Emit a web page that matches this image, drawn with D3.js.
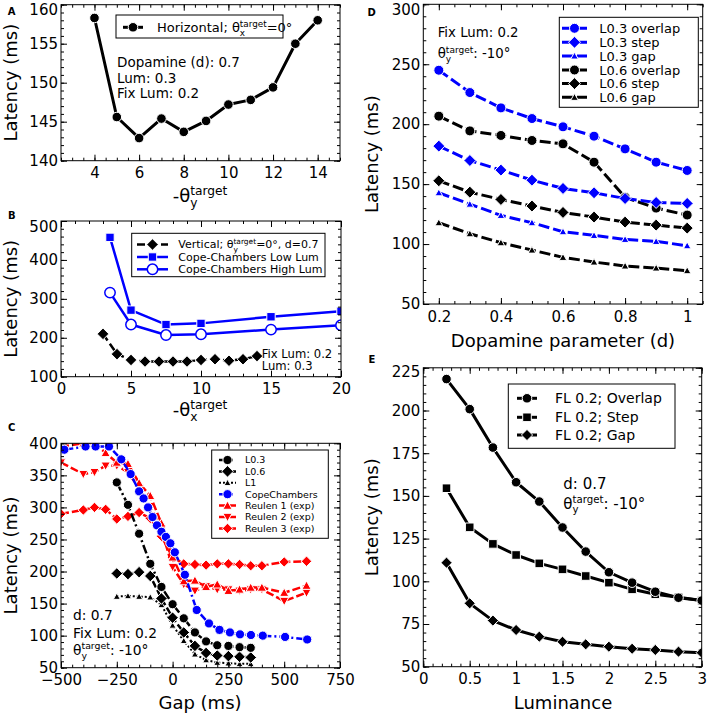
<!DOCTYPE html>
<html><head><meta charset="utf-8">
<script src="https://cdn.jsdelivr.net/npm/d3@7"></script>
<style>
body{margin:0;background:#fff;}
svg{font-family:"DejaVu Sans",sans-serif;}
</style></head><body>
<svg id="c" width="708" height="716"></svg>
<script>
// ---------------- DATA ----------------
// Panel A
const aTheta = [4,5,6,7,8,9,10,11,12,13,14];
const aHorizontal = [158.3,145.6,142.9,145.4,143.7,145.1,147.2,147.8,149.4,155.0,158.0];
const aXTicks = [4,6,8,10,12,14];
const aYTicks = [140,145,150,155,160];
// Panel B
const bThetaVert = [3,4,5,6,7,8,9,10,11,12,13,14];
const bVertical = [210,158,143,139,139,139,139,143,145,141,145,153];
const bThetaCC = [3.5,5,7.5,10,15,20];
const bCCLow = [458,271,234,237,254,268];
const bCCHigh = [316,234,207,209,221,232];
const bXTicks = [0,5,10,15,20];
const bYTicks = [100,200,300,400,500];
// Panel C
const cGapModel = [-250,-200,-150,-100,-50,0,50,100,150,200,250,300,350];
const cL03 = [339,304,259,212,176,149,127,105,91,85,84,82,81];
const cL06 = [197,196,199,193,158,128,105,84,73,69,68,67,66];
const cL1 = [161,162,161,160,148,116,92,71,62,58,57,56,56];
const cGapCC = [-485,-390,-345,-285,-230,-188,-150,-130,-110,-90,-70,-50,-30,-10,10,55,108,163,210,257,302,351,404,504,603];
const cCope = [390,395,395,395,375,352,325,314,300,285,272,262,254,244,230,195,140,119,109,105,102,101,100,98,94];
const cGapReulen = [-500,-400,-350,-300,-250,-200,-150,-100,-50,0,50,100,150,200,250,300,350,400,500,600];
const cReulen1 = [395,400,400,385,370,368,338,318,275,222,185,186,176,180,170,172,175,175,167,178];
const cReulen2 = [370,352,355,365,365,355,330,302,265,207,180,170,177,172,172,170,172,172,154,167];
const cReulen3 = [290,296,300,297,282,286,292,283,255,222,212,211,210,212,212,211,209,209,215,216];
const cXTicks = [-500,-250,0,250,500,750];
const cYTicks = [50,100,150,200,250,300,350,400];
// Panel D
const dDopamine = [0.2,0.3,0.4,0.5,0.6,0.7,0.8,0.9,1.0];
const dL03Overlap = [245,226.4,213.6,204.7,197.8,190,179.4,168.3,161.4];
const dL03Step = [181.7,169.7,161.7,153.3,146.4,142.8,138,134.7,133.9];
const dL03Gap = [142.8,133.3,123.9,117.8,110.3,107.2,103.9,102.2,98.6];
const dL06Overlap = [206.7,194.4,190.6,186.4,183.6,168.3,139,130,124.2];
const dL06Step = [152.8,143.3,137.2,131.7,126.4,122.5,118.3,115.8,113.3];
const dL06Gap = [117.8,108.6,101.1,95,88.9,85,81.7,80,77.8];
const dXTicks = [0.2,0.4,0.6,0.8,1.0];
const dYTicks = [50,100,150,200,250,300];
// Panel E
const eLuminance = [0.25,0.5,0.75,1.0,1.25,1.5,1.75,2.0,2.25,2.5,2.75,3.0];
const eOverlap = [218.4,200.8,178.3,158,146.7,131.5,117.4,105.3,99.2,93.9,90.4,88.7];
const eStep = [154.5,131.6,121.9,115.4,110.5,107,103.1,99.2,95.3,92.4,90.6,88.7];
const eGap = [110.9,87.1,77,71.5,67.6,64.6,63.1,61.7,60.5,59.8,58.8,58.2];
const eXTicks = [0,0.5,1,1.5,2,2.5,3];
const eYTicks = [50,75,100,125,150,175,200,225];

// ---------------- HELPERS ----------------
const svg = d3.select("#c");
const BLUE = "#0000ff", RED = "#ff0000", BLACK = "#000000";
let clipN = 0;

function markerPath(type, s) {
  if (type === "circle") return `M${s},0A${s},${s} 0 1,1 ${-s},0A${s},${s} 0 1,1 ${s},0Z`;
  if (type === "square") return `M${-s},${-s}H${s}V${s}H${-s}Z`;
  if (type === "diamond") return `M0,${-s}L${s},0L0,${s}L${-s},0Z`;
  if (type === "tup") return `M0,${-s}L${s},${s*0.8}L${-s},${s*0.8}Z`;
  if (type === "tdown") return `M0,${s}L${s},${-s*0.8}L${-s},${-s*0.8}Z`;
  return "";
}

function richText(parent, x, y, pre, sub, sup, post, fs, anchor) {
  const g = parent.append("g");
  const t1 = g.append("text").attr("x",0).attr("y",0).style("font-size",fs+"px").text(pre);
  let w = t1.node().getComputedTextLength();
  const sm = fs*0.68;
  const ts = g.append("text").attr("x",w).attr("y",fs*0.28).style("font-size",sm+"px").text(sub);
  const tp = g.append("text").attr("x",w).attr("y",-fs*0.40).style("font-size",sm+"px").text(sup);
  w += Math.max(ts.node().getComputedTextLength(), tp.node().getComputedTextLength());
  const t2 = g.append("text").attr("x",w).attr("y",0).style("font-size",fs+"px").text(post);
  w += t2.node().getComputedTextLength();
  const dx = anchor === "middle" ? -w/2 : anchor === "end" ? -w : 0;
  g.attr("transform",`translate(${x+dx},${y})`);
  return g;
}

function drawSeries(plot, x, y, s) {
  const data = s.x.map((v,i)=>[v, s.y[i]]);
  const line = d3.line().x(d=>x(d[0])).y(d=>y(d[1]));
  plot.append("path").attr("d", line(data)).attr("fill","none")
    .attr("stroke", s.color).attr("stroke-width", s.lw)
    .attr("stroke-dasharray", s.dash || null).attr("stroke-linejoin","round");
  plot.append("g").selectAll("path").data(data).join("path")
    .attr("d", markerPath(s.marker, s.ms))
    .attr("transform", d=>`translate(${x(d[0])},${y(d[1])})`)
    .attr("fill", s.fill || s.color)
    .attr("stroke", s.mstroke || "#fff")
    .attr("stroke-width", s.mew != null ? s.mew : 1);
}

function legendSample(g, x0, x1, yy, s) {
  g.append("line").attr("x1",x0).attr("x2",x1).attr("y1",yy).attr("y2",yy)
    .attr("stroke",s.color).attr("stroke-width",s.lw).attr("stroke-dasharray",s.dash||null);
  g.append("path").attr("d",markerPath(s.marker,s.ms))
    .attr("transform",`translate(${(x0+x1)/2},${yy})`)
    .attr("fill",s.fill||s.color).attr("stroke",s.mstroke||"#fff")
    .attr("stroke-width",s.mew!=null?s.mew:1);
}

function panel(cfg) {
  const g = svg.append("g");
  const x = d3.scaleLinear().domain(cfg.xd).range([cfg.l, cfg.r]);
  const y = d3.scaleLinear().domain(cfg.yd).range([cfg.b, cfg.t]);
  const id = "clip" + (clipN++);
  g.append("clipPath").attr("id",id).append("rect")
    .attr("x",cfg.l).attr("y",cfg.t).attr("width",cfg.r-cfg.l).attr("height",cfg.b-cfg.t);
  const plot = g.append("g").attr("clip-path",`url(#${id})`);
  cfg.series.forEach(s => drawSeries(plot, x, y, s));

  const fmt = cfg.fmt || (d => d < 0 ? "\u2212" + Math.abs(d) : String(+d.toFixed(2)));
  const style = sel => { sel.select(".domain").remove(); sel.selectAll("text").style("font-size","15px").style("font-family","DejaVu Sans").attr("fill","#000"); sel.attr("font-family",null).attr("font-size",null); sel.selectAll("line").attr("stroke","#000").attr("stroke-width",1); };
  const T = 6, t = 3;
  g.append("g").attr("transform",`translate(0,${cfg.b})`)
    .call(d3.axisBottom(x).tickValues(cfg.xt).tickSize(-T).tickPadding(7).tickFormat(fmt)).call(style);
  g.append("g").attr("transform",`translate(0,${cfg.b})`)
    .call(d3.axisBottom(x).tickValues(cfg.xm).tickSize(-t).tickFormat("")).call(style);
  g.append("g").attr("transform",`translate(0,${cfg.t})`)
    .call(d3.axisTop(x).tickValues(cfg.xt).tickSize(-T).tickFormat("")).call(style);
  g.append("g").attr("transform",`translate(0,${cfg.t})`)
    .call(d3.axisTop(x).tickValues(cfg.xm).tickSize(-t).tickFormat("")).call(style);
  const yax = g.append("g").attr("transform",`translate(${cfg.l},0)`)
    .call(d3.axisLeft(y).tickValues(cfg.yt).tickSize(-T).tickPadding(3).tickFormat(fmt)).call(style);
  if (cfg.topShift) {
    const top = d3.max(cfg.yt);
    yax.selectAll(".tick").filter(d => d === top).select("text")
      .attr("y", cfg.topShift);
  }
  g.append("g").attr("transform",`translate(${cfg.l},0)`)
    .call(d3.axisLeft(y).tickValues(cfg.ym).tickSize(-t).tickFormat("")).call(style);
  g.append("g").attr("transform",`translate(${cfg.r},0)`)
    .call(d3.axisRight(y).tickValues(cfg.yt).tickSize(-T).tickFormat("")).call(style);
  g.append("g").attr("transform",`translate(${cfg.r},0)`)
    .call(d3.axisRight(y).tickValues(cfg.ym).tickSize(-t).tickFormat("")).call(style);
  g.append("rect").attr("x",cfg.l).attr("y",cfg.t).attr("width",cfg.r-cfg.l).attr("height",cfg.b-cfg.t)
    .attr("fill","none").attr("stroke","#000").attr("stroke-width",1);

  // y label
  g.append("text").attr("transform",`translate(${cfg.ylx},${(cfg.t+cfg.b)/2}) rotate(-90)`)
    .attr("text-anchor","middle").style("font-size","18px").text("Latency (ms)");
  // panel letter
  g.append("text").attr("x",cfg.letter[1]).attr("y",cfg.letter[2]).attr("text-anchor","middle")
    .style("font-size","10px").style("font-weight","bold").text(cfg.letter[0]);
  // legend
  if (cfg.legend) {
    const L = cfg.legend;
    g.append("rect").attr("x",L.box[0]).attr("y",L.box[1]).attr("width",L.box[2]-L.box[0]).attr("height",L.box[3]-L.box[1])
      .attr("fill","#fff").attr("stroke","#000").attr("stroke-width",1);
    L.items.forEach((it,i) => {
      const yy = L.rows[i];
      legendSample(g, L.sx[0], L.sx[1], yy, it.s);
      if (it.rich) richText(g, L.tx, yy + L.fs*0.36, it.rich[0], it.rich[1], it.rich[2], it.rich[3], L.fs, "start");
      else g.append("text").attr("x",L.tx).attr("y",yy + L.fs*0.36).style("font-size",L.fs+"px").text(it.label);
    });
  }
  return {g, x, y};
}
const range = (a,b,s) => d3.range(a, b + s/2, s);

// ---------------- PANEL A ----------------
const sA = {x:aTheta, y:aHorizontal, color:BLACK, lw:3, marker:"circle", ms:4.8};
const A = panel({l:61, r:340, t:4.7, b:160.7, xd:[2.5,15], yd:[140,160],
  xt:aXTicks, xm:range(2.5,15,0.5), yt:aYTicks, ym:range(140,160,1), topShift:4.7,
  series:[sA], ylx:16.5, letter:["A",11.7,14.5],
  legend:{box:[116,15,283,38], rows:[27.3], sx:[123,143], tx:157, fs:13,
    items:[{s:sA, rich:["Horizontal; \u03b8","x","target","=0\u00b0"]}]}
});
A.g.append("text").attr("x",117).attr("y",67).style("font-size","13.5px").text("Dopamine (d): 0.7");
A.g.append("text").attr("x",117).attr("y",82.7).style("font-size","13.5px").text("Lum: 0.3");
A.g.append("text").attr("x",117).attr("y",98.3).style("font-size","13.5px").text("Fix Lum: 0.2");
richText(A.g, 200, 202, "-\u03b8", "y", "target", "", 18, "middle");

// ---------------- PANEL B ----------------
const sBV = {x:bThetaVert, y:bVertical, color:BLACK, lw:2.5, dash:"8,4", marker:"diamond", ms:5.8};
const sBL = {x:bThetaCC, y:bCCLow, color:BLUE, lw:2.5, marker:"square", ms:4.2};
const sBH = {x:bThetaCC, y:bCCHigh, color:BLUE, lw:2.5, marker:"circle", ms:5.2, fill:"#fff", mstroke:BLUE, mew:1.5};
const B = panel({l:61, r:341, t:221, b:376.7, xd:[0,20], yd:[100,500],
  xt:bXTicks, xm:range(0,20,1), yt:bYTicks, ym:range(100,500,20), topShift:6,
  series:[sBV, sBL, sBH], ylx:16.5, letter:["B",11.7,219],
  legend:{box:[131.7,233.3,325,276.7], rows:[244.5,257,269.3], sx:[137,168], tx:178.3, fs:11,
    items:[{s:sBV, rich:["Vertical; \u03b8","y","target","=0\u00b0, d=0.7"]},
           {s:sBL, label:"Cope-Chambers Low Lum"},
           {s:sBH, label:"Cope-Chambers High Lum"}]}
});
B.g.append("text").attr("x",261.7).attr("y",357.5).style("font-size","11.6px").text("Fix Lum: 0.2");
B.g.append("text").attr("x",261.7).attr("y",370).style("font-size","11.6px").text("Lum: 0.3");
richText(B.g, 200, 416, "-\u03b8", "x", "target", "", 18, "middle");

// ---------------- PANEL C ----------------
const sC1 = {x:cGapModel, y:cL03, color:BLACK, lw:2.5, dash:"9,3,2,3", marker:"circle", ms:4.6};
const sC2 = {x:cGapModel, y:cL06, color:BLACK, lw:2.5, dash:"7,3", marker:"diamond", ms:5.8};
const sC3 = {x:cGapModel, y:cL1, color:BLACK, lw:2, dash:"2,2", marker:"tup", ms:3.5};
const sC4 = {x:cGapCC, y:cCope, color:BLUE, lw:2.5, dash:"9,3,2,3", marker:"circle", ms:4.6};
const sC5 = {x:cGapReulen, y:cReulen1, color:RED, lw:2.5, dash:"8,3", marker:"tup", ms:4.6};
const sC6 = {x:cGapReulen, y:cReulen2, color:RED, lw:2.5, dash:"8,3", marker:"tdown", ms:4.6};
const sC7 = {x:cGapReulen, y:cReulen3, color:RED, lw:2.5, dash:"8,3", marker:"diamond", ms:5.2};
const C = panel({l:61, r:340, t:443.3, b:667.7, xd:[-500,750], yd:[50,400],
  xt:cXTicks, xm:range(-500,750,50), yt:cYTicks, ym:range(50,400,10),
  series:[sC7, sC6, sC5, sC4, sC3, sC2, sC1], ylx:16.5, letter:["C",11.7,430.5],
  legend:{box:[211.7,450,328.3,538.3], rows:[460,471.4,482.8,494.2,505.6,517,528.4], sx:[219,236], tx:245, fs:9.5,
    items:[{s:sC1,label:"L0.3"},{s:sC2,label:"L0.6"},{s:sC3,label:"L1"},{s:sC4,label:"CopeChambers"},
           {s:sC5,label:"Reulen 1 (exp)"},{s:sC6,label:"Reulen 2 (exp)"},{s:sC7,label:"Reulen 3 (exp)"}]}
});
C.g.append("text").attr("x",73).attr("y",620).style("font-size","13.8px").text("d: 0.7");
C.g.append("text").attr("x",73).attr("y",637.5).style("font-size","13.8px").text("Fix Lum: 0.2");
richText(C.g, 73, 655, "\u03b8", "y", "target", ": -10\u00b0", 13.8, "start");
C.g.append("text").attr("x",200).attr("y",709).attr("text-anchor","middle").style("font-size","18px").text("Gap (ms)");

// ---------------- PANEL D ----------------
const sD1 = {x:dDopamine, y:dL03Overlap, color:BLUE, lw:3, dash:"11,4", marker:"circle", ms:5};
const sD2 = {x:dDopamine, y:dL03Step, color:BLUE, lw:3, dash:"11,4", marker:"diamond", ms:6};
const sD3 = {x:dDopamine, y:dL03Gap, color:BLUE, lw:3, dash:"11,4", marker:"tup", ms:3.8};
const sD4 = {x:dDopamine, y:dL06Overlap, color:BLACK, lw:3, dash:"11,4", marker:"circle", ms:5};
const sD5 = {x:dDopamine, y:dL06Step, color:BLACK, lw:3, dash:"11,4", marker:"diamond", ms:6};
const sD6 = {x:dDopamine, y:dL06Gap, color:BLACK, lw:3, dash:"11,4", marker:"tup", ms:3.8};
const D = panel({l:423.3, r:702.7, t:4.3, b:304, xd:[0.15,1.05], yd:[50,300],
  xt:dXTicks, xm:range(0.15,1.05,0.05), yt:dYTicks, ym:range(50,300,10), topShift:5,
  series:[sD4, sD5, sD6, sD1, sD2, sD3], ylx:378, letter:["D",371.7,15.5],
  legend:{box:[559.3,17.3,698.3,107.3], rows:[28.3,42.3,56,70,83.6,97.3], sx:[562,587], tx:599.3, fs:13,
    items:[{s:sD1,label:"L0.3 overlap"},{s:sD2,label:"L0.3 step"},{s:sD3,label:"L0.3 gap"},
           {s:sD4,label:"L0.6 overlap"},{s:sD5,label:"L0.6 step"},{s:sD6,label:"L0.6 gap"}]}
});
D.g.append("text").attr("x",437.7).attr("y",36.5).style("font-size","13.3px").text("Fix Lum: 0.2");
richText(D.g, 437.7, 58, "\u03b8", "y", "target", ": -10\u00b0", 13.3, "start");
D.g.append("text").attr("x",563).attr("y",347).attr("text-anchor","middle").style("font-size","18px").text("Dopamine parameter (d)");

// ---------------- PANEL E ----------------
const sE1 = {x:eLuminance, y:eOverlap, color:BLACK, lw:3, marker:"circle", ms:4.8};
const sE2 = {x:eLuminance, y:eStep, color:BLACK, lw:3, marker:"square", ms:4.3};
const sE3 = {x:eLuminance, y:eGap, color:BLACK, lw:3, marker:"diamond", ms:5.6};
const E = panel({l:423.3, r:701.7, t:367.8, b:666.7, xd:[0,3], yd:[50,225],
  xt:eXTicks, xm:range(0,3,0.1), yt:eYTicks, ym:range(50,225,5), topShift:3.5,
  series:[sE2, sE3, sE1], ylx:378, letter:["E",372,363],
  legend:{box:[508.3,384,675,448.3], rows:[398.3,417.3,435], sx:[517,537], tx:555, fs:14,
    items:[{s:sE1,label:"FL 0.2; Overlap"},{s:sE2,label:"FL 0.2; Step"},{s:sE3,label:"FL 0.2; Gap"}]}
});
E.g.append("text").attr("x",563.3).attr("y",489).style("font-size","15px").text("d: 0.7");
richText(E.g, 563.3, 509, "\u03b8", "y", "target", ": -10\u00b0", 15, "start");
E.g.append("text").attr("x",563).attr("y",709).attr("text-anchor","middle").style("font-size","18px").text("Luminance");
</script></body></html>
